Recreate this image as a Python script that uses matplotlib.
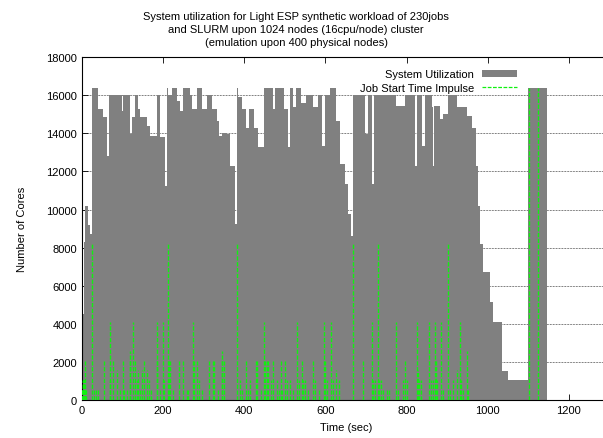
import matplotlib
matplotlib.use("Agg")
from matplotlib import pyplot as plt
from matplotlib.patches import Patch
from matplotlib.lines import Line2D

plt.rcParams['font.family'] = ['Liberation Sans', 'DejaVu Sans']

# system utilization (step, value holds until next time)
util_time = [0, 1, 2, 3, 4, 5, 6, 7, 8, 15, 19, 24, 40, 52, 62, 67, 98, 102, 118, 124,
             130, 139, 144, 159, 167, 185, 192, 205, 210, 213, 221, 233, 241, 250, 266, 272,
             283, 295, 307, 320, 332, 338, 344, 356, 365, 377, 381, 385, 395, 404, 412, 424,
             434, 448, 470, 475, 497, 507, 512, 520, 527, 540, 552, 570, 582, 592, 600, 610,
             626, 636, 648, 656, 662, 667, 697, 705, 715, 719, 775, 795, 820, 825, 837, 845,
             862, 866, 868, 882, 890, 902, 925, 948, 960, 972, 976, 980, 988, 1005, 1014,
             1034, 1051, 1100, 1145, 1300]
util_cores = [500, 1500, 3000, 4500, 6000, 7200, 8300, 9300, 10200, 9200, 8700, 16384,
              15270, 14850, 12820, 16000, 15190, 16000, 13960, 14850, 16000, 15270, 14850,
              14400, 13870, 16000, 13800, 11250, 16384, 16000, 16384, 15700, 15190, 16384,
              16000, 15270, 16384, 15270, 16000, 15270, 14660, 13870, 14000, 13960, 12300,
              9240, 16384, 15900, 15270, 14300, 15270, 14300, 13260, 16384, 15270, 16384,
              15270, 13300, 16384, 15400, 16384, 15600, 16000, 15400, 16000, 13350, 16000,
              16384, 14660, 12390, 11340, 9760, 8600, 16000, 13960, 16000, 11340, 16000,
              15450, 16000, 12300, 16000, 13350, 16000, 15360, 12300, 15450, 14750, 15000,
              16000, 15400, 14920, 14300, 12300, 10200, 8200, 6700, 5140, 4080, 1540, 1024,
              16384, 0, 0]

# job start time impulses
job_start = [0, 1, 2, 2, 3, 3, 4, 4, 5, 5, 6, 6, 7, 8, 9,
             25, 30, 34, 40, 54, 68, 70, 77, 87, 94, 100, 104, 110, 118, 119, 126, 131, 136,
             139, 144, 147, 153, 161, 165, 169, 184, 186, 192, 199, 201, 213, 215, 218, 224,
             240, 250, 259, 262, 274, 276, 284, 289, 295, 314, 323, 326, 335, 344, 346, 350,
             383, 389, 395, 404, 409, 414, 429, 432, 440, 449, 451, 455, 459, 465, 470, 480,
             485, 490, 493, 500, 505, 512, 520, 530, 534, 541, 545, 549, 558, 570, 573, 585,
             597, 599, 604, 613, 618, 627, 634, 669, 693, 714, 718, 721, 730, 733, 736, 743,
             751, 757, 775, 778, 790, 796, 800, 826, 828, 831, 836, 856, 860, 866, 870, 872,
             876, 885, 889, 903, 907, 914, 924, 931, 934, 939, 948, 952, 1102, 1124]
job_cores = [512, 512, 512, 1024, 512, 1024, 512, 1024, 512, 1024, 512, 1024, 512, 2048, 512,
             8192, 512, 512, 512, 2048, 4096, 1024, 2048, 1568, 512, 2048, 512, 512, 2592,
             2048, 4096, 2048, 1024, 1568, 512, 1568, 2048, 1568, 1024, 512, 4096, 2048, 512,
             4096, 1024, 8192, 2048, 2048, 512, 2048, 2048, 512, 512, 4096, 2048, 2048, 1024,
             512, 2048, 2048, 2048, 512, 2592, 2048, 2048, 8192, 1024, 512, 2048, 512, 1024,
             2048, 2048, 512, 4096, 2048, 2048, 2048, 1024, 2048, 1024, 512, 2048, 512, 2048,
             1024, 1024, 512, 4096, 1024, 2048, 1024, 1024, 512, 2048, 1024, 512, 4096, 2048,
             1024, 4096, 1024, 1568, 1024, 8192, 2048, 4096, 1024, 1024, 8192, 1024, 1024, 512,
             512, 512, 4096, 512, 1024, 2048, 1024, 4096, 1568, 1024, 1024, 4096, 1024, 1024,
             4096, 2048, 1024, 4096, 512, 8192, 512, 1024, 1568, 4096, 1024, 512, 2592, 512,
             16384, 16384]

title = ("System utilization for Light ESP synthetic workload of 230jobs\n"
         "and SLURM upon 1024 nodes (16cpu/node) cluster\n"
         "(emulation upon 400 physical nodes)")

green = '#10f010'
fs = 8

fig = plt.figure(figsize=(6.03, 4.39), dpi=100)
ax = fig.add_axes([0.136, 0.0866, 0.8748, 0.781])

ax.fill_between(util_time, util_cores, step='post', color='#808080', lw=0, zorder=2)
ax.vlines(job_start, 0, job_cores, colors=green, linewidth=1.0,
          linestyles=(0, (3, 1.2)), zorder=3)

ax.set_xlim(0, 1300)
ax.set_ylim(0, 18000)
ax.set_xticks(range(0, 1201, 200))
ax.set_yticks(range(0, 18001, 2000))
ax.tick_params(direction='in', top=True, right=True, length=4, width=0.6,
               labelsize=fs, colors='black')
ax.yaxis.grid(True, color='black', linestyle=(0, (1, 1.2)), linewidth=0.5, zorder=1)
ax.set_axisbelow(True)
for s in ax.spines.values():
    s.set_linewidth(0.8)

ax.set_xlabel('Time (sec)', fontsize=fs, labelpad=5)
ax.set_ylabel('Number of Cores', fontsize=fs, labelpad=14)
fig.text(0.491, 0.972, title, ha='center', va='top', fontsize=fs, linespacing=1.38)

handles = [Patch(facecolor='#808080', edgecolor='none'),
           Line2D([], [], color=green, lw=0.9, linestyle=(0, (3, 1.2)))]
ax.legend(handles, ['System Utilization', 'Job Start Time Impulse'],
          loc='upper right', bbox_to_anchor=(0.858, 0.840), bbox_transform=fig.transFigure,
          frameon=False, markerfirst=False, handlelength=3.2, handleheight=0.6,
          borderpad=0, borderaxespad=0, labelspacing=0.3, handletextpad=0.7, fontsize=fs)

fig.savefig('out.png', dpi=100)
